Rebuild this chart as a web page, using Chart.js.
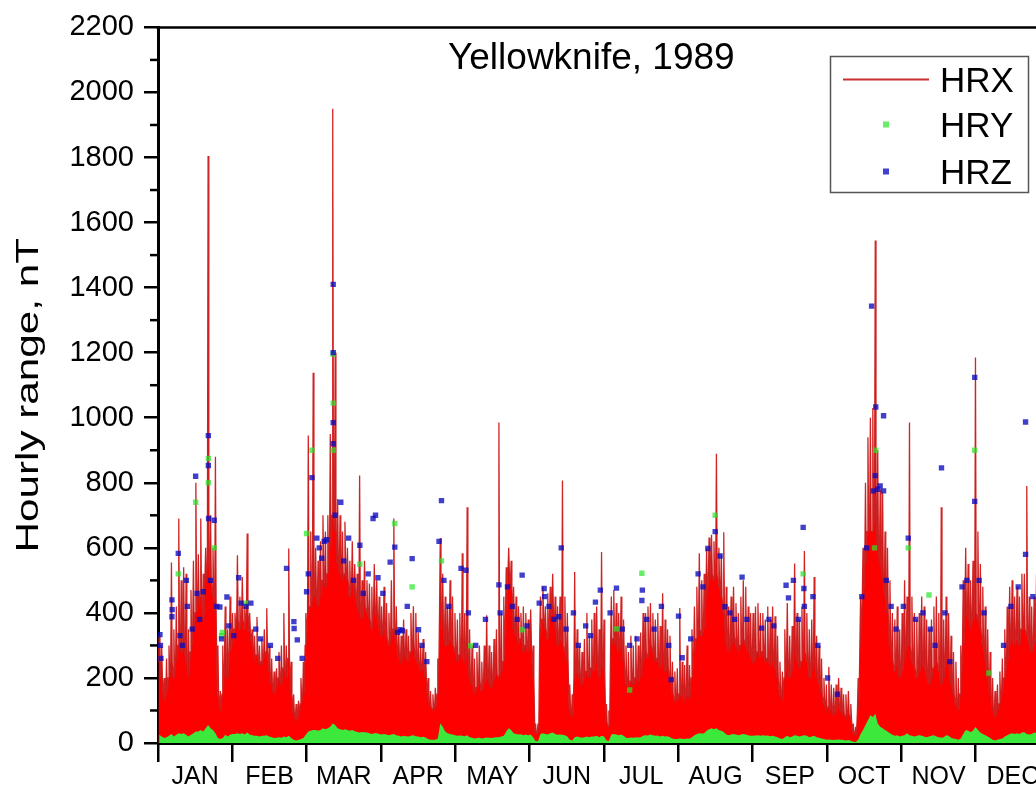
<!DOCTYPE html>
<html>
<head>
<meta charset="utf-8">
<script src="https://cdn.jsdelivr.net/npm/chart.js@4/dist/chart.umd.min.js"></script>
<style>
html,body{margin:0;padding:0;background:#fff;overflow:hidden;}
#wrap{position:relative;width:1064px;height:787px;}
</style>
</head>
<body>
<div id="wrap"><canvas id="c" width="1064" height="787"></canvas></div>
<script>
// ---------------- data ----------------
const chartTitle = 'Yellowknife, 1989';
const yAxisTitle = 'Hourly range, nT';
const monthLabels = ['JAN','FEB','MAR','APR','MAY','JUN','JUL','AUG','SEP','OCT','NOV','DEC'];
const yMajorTicks = [0,200,400,600,800,1000,1200,1400,1600,1800,2000,2200];
const yMinorTicks = [100,300,500,700,900,1100,1300,1500,1700,1900,2100];

// HRX: typical level of the dense trace for each day of the year (nT)
const hrxBody = [
 250,200,130,150,200,250,200,250,300,280,300,250,200,280,350,400,420,450,380,500,550,500,450,400,150,100,150,250,200,280,300,
 350,380,350,380,350,400,340,300,260,270,240,250,260,280,220,180,150,170,200,180,230,200,260,150,90,70,80,120,
 150,300,400,420,450,450,420,450,500,480,520,600,700,650,550,520,500,520,500,450,480,450,420,400,380,420,400,380,350,400,380,
 350,330,350,320,300,330,350,300,260,250,280,260,250,280,300,260,240,220,230,200,130,110,100,110,150,400,350,300,300,320,
 300,280,250,270,260,250,280,200,180,150,170,190,160,180,200,190,170,200,210,200,220,250,400,520,480,350,330,300,320,280,300,
 280,300,200,30,30,330,380,350,320,380,400,350,300,320,300,280,250,100,80,200,220,200,180,200,220,200,230,220,250,200,
 250,220,60,50,300,320,300,280,300,250,180,170,190,180,200,190,200,250,280,260,300,280,250,260,230,250,220,230,200,150,130,
 130,150,140,130,150,140,200,280,320,350,330,350,450,500,520,500,520,480,450,400,300,280,300,330,300,280,300,320,300,280,260,
 250,260,280,260,280,250,260,240,250,230,200,150,130,200,250,200,220,280,250,230,250,280,250,200,220,250,200,180,150,120,
 100,110,100,90,100,110,100,90,80,90,70,30,25,100,300,450,550,650,650,650,700,600,550,500,450,400,300,250,220,250,200,
 220,250,300,300,250,230,200,220,250,230,200,180,200,230,250,220,180,200,250,230,180,150,120,100,150,300,400,380,350,380,
 400,380,350,300,250,200,150,100,80,100,120,150,200,250,300,320,300,320,300,350,350,330,300,280,300,350,320,300,280,300,250
];
// HRX: daily maximum (spike tops, nT)
const hrxPeak = [
 330,300,200,260,300,555,350,420,690,500,540,520,350,470,560,800,580,690,520,600,1805,700,600,880,300,160,300,420,350,450,400,
 400,577,450,510,420,644,400,350,330,387,300,320,350,414,300,260,220,230,280,300,400,300,598,250,150,120,130,200,
 250,400,945,650,1138,600,560,620,700,650,700,950,1950,1200,750,700,650,680,600,560,620,550,520,822,500,560,500,490,480,550,500,
 450,420,480,430,400,500,690,420,350,330,380,350,330,400,420,400,340,300,320,280,200,160,150,170,260,630,520,450,420,500,
 450,400,380,400,583,400,725,350,300,260,280,300,250,300,393,300,280,320,350,985,400,450,540,600,560,480,450,420,400,420,400,
 380,410,300,60,60,450,480,420,460,480,520,450,420,450,807,450,400,180,150,526,350,300,280,320,400,330,380,400,420,350,
 587,380,120,100,450,470,430,400,450,380,300,280,330,300,330,300,340,400,400,420,430,400,380,400,360,460,380,350,330,250,220,
 230,415,250,240,300,240,350,420,480,583,500,520,600,632,640,620,889,600,580,648,480,420,450,480,430,400,450,500,480,420,400,
 400,420,430,400,400,380,420,380,420,390,330,250,220,350,430,330,360,552,400,380,420,590,400,350,380,510,330,300,260,200,
 180,234,180,170,180,200,170,150,150,160,120,60,50,200,450,600,800,940,1000,1030,1545,900,780,770,650,600,500,400,380,420,350,
 400,500,450,985,450,400,380,400,450,420,380,350,380,420,450,400,725,380,450,400,330,280,250,200,300,500,600,550,500,560,
 1185,650,550,480,420,350,280,200,160,180,220,260,350,420,480,500,450,480,450,520,520,790,450,420,450,520,480,450,420,450,400
];
// HRY: upper edge of the dense low band for each day (nT)
const hryBand = [
 25,20,15,18,22,28,20,25,30,28,30,25,20,25,30,35,35,40,35,45,55,45,40,30,15,12,15,25,20,25,28,
 28,30,28,30,26,32,26,24,22,22,20,22,22,24,20,18,15,16,18,16,20,18,22,15,10,8,9,12,
 15,25,35,38,40,40,38,40,45,42,45,50,60,55,45,42,40,42,40,38,40,36,34,32,34,33,32,30,28,30,30,
 28,26,28,26,24,26,28,24,22,20,22,21,20,22,24,21,20,18,19,17,12,10,10,10,14,60,50,35,30,28,
 26,24,22,23,22,21,24,18,16,14,15,16,14,15,17,16,15,17,18,18,20,22,35,45,40,30,28,26,27,24,26,
 24,26,18,5,5,28,30,28,26,30,32,28,25,26,25,24,20,10,8,18,20,18,16,18,20,18,20,20,22,18,
 22,20,8,6,26,28,26,24,26,22,16,15,17,16,18,17,18,22,24,23,26,24,22,23,20,22,20,21,18,14,12,
 12,14,13,12,14,13,18,24,28,30,29,30,38,42,45,42,45,40,38,34,26,24,26,28,26,24,26,28,26,24,22,
 22,23,24,22,24,22,23,21,22,20,18,14,12,18,22,18,20,24,22,20,22,24,22,18,20,22,18,16,14,12,
 10,11,10,9,10,11,10,9,8,9,7,4,3,10,28,40,55,70,85,80,90,60,50,45,40,35,30,25,22,24,20,
 22,24,30,24,22,20,22,24,22,20,18,20,22,24,20,18,16,18,24,22,16,14,12,10,14,28,40,38,34,38,
 50,40,32,28,24,20,15,10,8,10,12,14,20,24,28,30,28,30,28,32,33,28,26,28,32,30,28,26,28,26,24
];
// HRY: isolated higher values [day of year, nT]
const hryPoints = [
 [8.3,520],[15.4,740],[20.6,800],[20.6,875],[23,600],[26,330],[26.3,340],[36,430],
 [60.8,644],[63,900],[71.7,1195],[71.7,1045],[71.7,900],[82.6,550],[96.9,675],[104,480],
 [116,560],[128,299],[149,348],[187.6,351],[193,163],[198,522],[228,700],[264,520],
 [293.7,900],[293.2,600],[307,600],[315.5,455],[334.2,900],[340,215]
];
// HRZ: values visible above the band [day of year, nT]
const hrzPoints = [
 [0.8,333],[1,300],[1.2,260],[5.7,440],[5.7,388],[5.8,410],[8.3,583],[9,330],[10,300],[11.6,500],[12,420],[14,350],
 [15.4,820],[16,460],[17,380],[18.5,465],[20.6,945],[20.6,853],[20.7,690],[21.5,500],[23,685],[24,420],[25.3,418],[26,320],[28.2,449],[29,360],
 [31,330],[33,508],[34,430],[36,420],[38,430],[40,350],[42,320],[46,300],[49,260],[52.6,537],[55.6,373],[55.7,352],[57,317],
 [59,260],[60.8,465],[61.5,520],[63,816],[65,630],[66,600],[67,568],[68,620],[69,625],[71.7,1410],[71.7,1200],[71.7,985],[71.7,920],
 [72.5,700],[74.8,740],[76,560],[78,630],[80,500],[82.6,608],[84,460],[86,520],[88,690],[89,700],[90,508],
 [92,460],[95,556],[96.9,602],[98,340],[99,348],[100,345],[102,420],[104,567],[106.6,348],[108,300],[110,250],[115,620],[116,745],[117,500],[119,420],
 [124,537],[126,531],[127,400],[130,300],[134,380],[139.5,486],[140,400],[143,480],[145,420],[147,380],[149,516],[151,360],
 [156,430],[158,475],[158.2,450],[160,420],[162,380],[164,388],[165,600],[167,350],[170,400],[172,300],[175,360],[177,330],[179,433],[181,470],
 [185,400],[187.6,476],[190,350],[193,300],[196,320],[198,438],[198.2,470],[200,380],[203,350],[206,420],[209,300],[210,195],[213,390],[214.5,262],
 [218,320],[221,520],[223,480],[225,598],[228,650],[230,575],[232,419],[234,400],[236,380],[239,510],[241,380],
 [247,353],[250,380],[252,360],[257,485],[258,446],[260,500],[262,380],[264,663],[264.3,475],[264.5,420],[268,450],[270,300],
 [274,200],[278,150],[288,450],[290,600],[292,1343],[292.7,775],[293.5,822],[293.7,1033],[294.5,780],[295.5,790],[296.9,1006],[296.9,775],[298,500],[300,420],[302,350],
 [305,420],[307,630],[310,380],[313,400],[316,350],[318,300],[320.6,846],[322,400],[324,250],[329,480],[331,500],
 [334.2,1124],[334.2,743],[336,500],[338,400],[346,300],[349,420],[352,480],[355,987],[355,580],[358,450],[362,420]
];

// ---------------- build library datasets ----------------
const DAYS = 365;
const MONTH = DAYS / 12;
const hrxData = [];
hrxPeak.forEach((p, d) => {
  hrxData.push({x: d + 0.2, y: hrxBody[d]}, {x: d + 0.5, y: p}, {x: d + 0.8, y: hrxBody[d]});
});
const hryBandData = hryBand.map((v, d) => ({x: d + 0.5, y: v}));
const hryPointData = hryPoints.map(([d, v]) => ({x: d, y: v}));
const hrzPointData = hrzPoints.map(([d, v]) => ({x: d, y: v}));

const FONT = '"Liberation Sans", Arial, Helvetica, sans-serif';
const isBoundary = v => Math.abs(v / MONTH - Math.round(v / MONTH)) < 1e-6;

const decor = {
  id: 'decor',
  afterDraw(chart) {
    const {ctx, chartArea: a, scales: {y}} = chart;
    ctx.save();
    ctx.strokeStyle = '#000';
    ctx.lineWidth = 2.5;
    ctx.beginPath(); ctx.moveTo(a.left - 1.5, a.top); ctx.lineTo(a.right, a.top); ctx.lineTo(a.right, a.bottom); ctx.stroke();
    yMinorTicks.forEach(v => {
      const py = y.getPixelForValue(v);
      ctx.beginPath(); ctx.moveTo(a.left - 8, py); ctx.lineTo(a.left, py); ctx.stroke();
    });
    // y axis title (glyphs are drawn taller than wide in the reference)
    ctx.save();
    ctx.fillStyle = '#000';
    ctx.font = '32px ' + FONT;
    ctx.translate(37.5, (a.top + a.bottom) / 2 + 10);
    ctx.rotate(-Math.PI / 2);
    ctx.scale(1.32, 1);
    ctx.textAlign = 'center';
    ctx.textBaseline = 'alphabetic';
    ctx.fillText(yAxisTitle, 0, 0);
    ctx.restore();
    // title inside the plot
    ctx.fillStyle = '#000';
    ctx.font = '37px ' + FONT;
    ctx.textAlign = 'left';
    ctx.textBaseline = 'alphabetic';
    ctx.fillText(chartTitle, 448, 69);
    // legend box
    const ds = chart.data.datasets;
    ctx.lineWidth = 1.5;
    ctx.strokeStyle = '#555';
    ctx.strokeRect(830.5, 56.5, 198, 136);
    ctx.font = '35px ' + FONT;
    const rows = [[ds[0], 92, 'line'], [ds[2], 137, 'pt'], [ds[3], 184, 'pt']];
    rows.forEach(([d, base, kind]) => {
      const mid = base - 12.5;
      if (kind === 'line') {
        ctx.strokeStyle = '#c83030'; ctx.lineWidth = 2;
        ctx.beginPath(); ctx.moveTo(843, mid); ctx.lineTo(929, mid); ctx.stroke();
      } else {
        ctx.fillStyle = d.pointBackgroundColor;
        ctx.fillRect(883, mid - 3, 6, 6);
      }
      ctx.fillStyle = '#000';
      ctx.fillText(d.label, 940, base);
    });
    ctx.restore();
  }
};

new Chart(document.getElementById('c'), {
  type: 'line',
  data: {
    datasets: [
      {label: 'HRX', data: hrxData, order: 4, borderColor: 'rgba(205,25,25,0.95)', borderWidth: 1.3,
       backgroundColor: '#ff0000', fill: 'origin', pointRadius: 0, tension: 0},
      {label: 'HRY band', data: hryBandData, order: 3, borderWidth: 0, borderColor: 'rgba(0,0,0,0)',
       backgroundColor: '#3de83d', fill: 'origin', pointRadius: 0, tension: 0},
      {label: 'HRY', data: hryPointData, order: 2, showLine: false, pointStyle: 'rect', pointRadius: 3.8,
       pointBorderWidth: 0, pointBackgroundColor: 'rgba(40,230,40,0.7)', backgroundColor: 'rgba(40,230,40,0.7)'},
      {label: 'HRZ', data: hrzPointData, order: 1, showLine: false, pointStyle: 'rect', pointRadius: 3.8,
       pointBorderWidth: 0, pointBackgroundColor: 'rgba(10,10,190,0.78)', backgroundColor: 'rgba(10,10,190,0.78)'}
    ]
  },
  options: {
    responsive: false,
    animation: false,
    events: [],
    layout: {padding: {top: 25, right: 14, left: 0, bottom: 0}},
    plugins: {legend: {display: false}, tooltip: {enabled: false}, title: {display: false}},
    scales: {
      x: {
        type: 'linear', min: 0, max: DAYS, position: 'bottom',
        afterFit: s => { s.height = 44; },
        afterBuildTicks: s => {
          const t = [];
          for (let i = 0; i <= 12; i++) {
            t.push({value: i * MONTH});
            if (i < 12) t.push({value: (i + 0.5) * MONTH});
          }
          s.ticks = t;
        },
        ticks: {
          autoSkip: false, maxRotation: 0, minRotation: 0, padding: 0, color: '#000',
          font: {family: FONT, size: 25},
          callback: v => isBoundary(v) ? '' : monthLabels[Math.round(v / MONTH - 0.5)]
        },
        grid: {
          drawOnChartArea: false, drawTicks: true, tickLength: 19, lineWidth: 2.5,
          color: c => (c.tick && !isBoundary(c.tick.value)) ? 'rgba(0,0,0,0)' : '#000'
        },
        border: {display: true, color: '#000', width: 3}
      },
      y: {
        min: 0, max: 2200,
        afterFit: s => { s.width = 158; },
        afterBuildTicks: s => { s.ticks = yMajorTicks.map(v => ({value: v})); },
        ticks: {color: '#000', padding: 10, font: {family: FONT, size: 29}, callback: v => String(v)},
        grid: {drawOnChartArea: false, drawTicks: true, tickLength: 14, lineWidth: 2.5, color: '#000'},
        border: {display: true, color: '#000', width: 3},
        title: {display: false}
      }
    }
  },
  plugins: [decor]
});
</script>
</body>
</html>
